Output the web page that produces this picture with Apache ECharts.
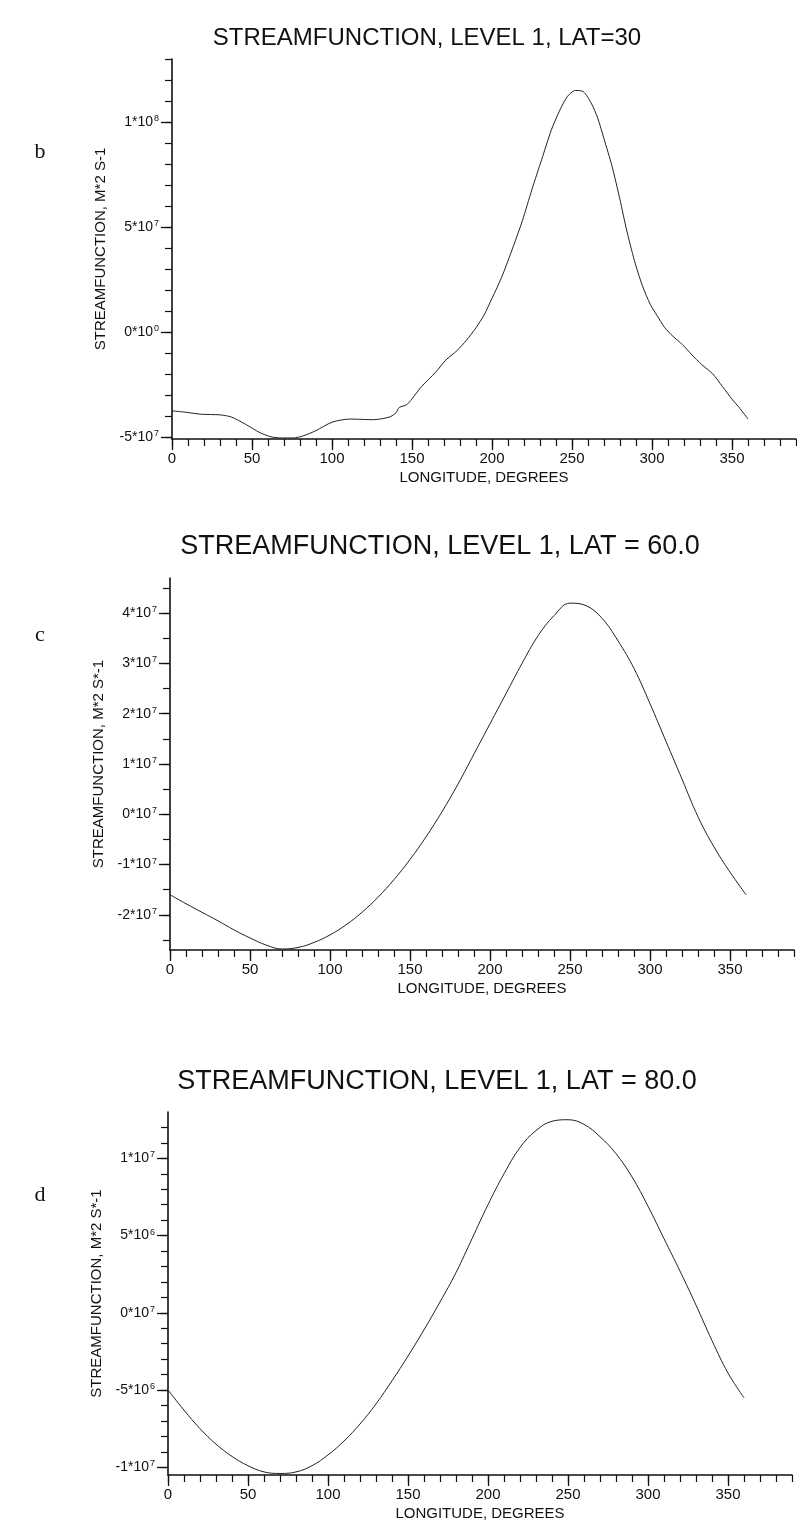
<!DOCTYPE html>
<html>
<head>
<meta charset="utf-8">
<script src="https://cdn.jsdelivr.net/npm/echarts@6/dist/echarts.min.js"></script>
<style>
  html, body { margin: 0; padding: 0; background: #ffffff; }
  #chart { width: 797px; height: 1532px; }
</style>
</head>
<body>
<div id="chart"></div>
<script>
// ---- Panel b: level 1, latitude 30 (values in units of 1e7 m^2/s) ----
const lonB = [0, 8, 18, 30, 37, 46, 55, 62, 68, 76, 82, 90, 100, 111, 126, 136, 140, 142, 147,
  156, 165, 171, 178, 184, 190, 195, 200, 206, 212, 219, 225, 231, 237, 242, 247, 252, 257,
  262, 266, 270, 275, 280, 284, 289, 294, 299, 303, 308, 313, 319, 325, 331, 338, 344, 350, 355, 360];
const psiB = [-3.76, -3.82, -3.92, -3.95, -4.05, -4.4, -4.8, -5.0, -5.05, -5.05, -4.95, -4.7, -4.3,
  -4.15, -4.18, -4.05, -3.85, -3.6, -3.45, -2.6, -1.9, -1.35, -0.9, -0.4, 0.2, 0.8, 1.6, 2.6, 3.8,
  5.3, 6.8, 8.2, 9.6, 10.5, 11.2, 11.5, 11.45, 10.9, 10.2, 9.2, 7.9, 6.3, 4.9, 3.4, 2.2, 1.3, 0.8,
  0.2, -0.2, -0.6, -1.1, -1.55, -2.0, -2.6, -3.2, -3.65, -4.15];

// ---- Panel c: level 1, latitude 60 (units of 1e7) ----
const lonC = [0, 10, 20, 30, 40, 50, 60, 70, 80, 90, 100, 110, 120, 130, 140, 150, 160, 170, 180,
  190, 200, 210, 220, 230, 240, 250, 260, 270, 280, 290, 300, 310, 320, 330, 340, 350, 360];
const psiC = [-1.6, -1.78, -1.95, -2.12, -2.3, -2.46, -2.6, -2.68, -2.65, -2.55, -2.4, -2.2, -1.95,
  -1.65, -1.3, -0.9, -0.45, 0.05, 0.6, 1.2, 1.8, 2.4, 3.0, 3.55, 3.95, 4.2, 4.15, 3.9, 3.45, 2.9,
  2.2, 1.45, 0.7, -0.05, -0.65, -1.15, -1.6];

// ---- Panel d: level 1, latitude 80 (units of 1e6) ----
const lonD = lonC;
const psiD = [-5.0, -6.3, -7.5, -8.5, -9.3, -9.9, -10.3, -10.4, -10.3, -9.9, -9.2, -8.3, -7.2,
  -5.9, -4.4, -2.8, -1.1, 0.7, 2.6, 4.8, 7.0, 9.0, 10.7, 11.8, 12.4, 12.5, 12.2, 11.4, 10.3, 8.8,
  6.9, 4.8, 2.7, 0.5, -1.8, -3.9, -5.5];

// ---- Tick labels ----
const xLabelValues = [0, 50, 100, 150, 200, 250, 300, 350];
const yLabelValuesB = [-5e7, 0, 5e7, 1e8];
const yLabelTextB = ['-5*10^7', '0*10^0', '5*10^7', '1*10^8'];
const yLabelValuesC = [-2e7, -1e7, 0, 1e7, 2e7, 3e7, 4e7];
const yLabelTextC = ['-2*10^7', '-1*10^7', '0*10^7', '1*10^7', '2*10^7', '3*10^7', '4*10^7'];
const yLabelValuesD = [-1e7, -5e6, 0, 5e6, 1e7];
const yLabelTextD = ['-1*10^7', '-5*10^6', '0*10^7', '5*10^6', '1*10^7'];

const titles = [
  'STREAMFUNCTION, LEVEL 1, LAT=30',
  'STREAMFUNCTION, LEVEL 1, LAT = 60.0',
  'STREAMFUNCTION, LEVEL 1, LAT = 80.0'
];
const panelLetters = ['b', 'c', 'd'];
const yNames = ['STREAMFUNCTION, M*2 S-1', 'STREAMFUNCTION, M*2 S*-1', 'STREAMFUNCTION, M*2 S*-1'];
const xName = 'LONGITUDE, DEGREES';

// ---- helpers ----
function range(a, b, step) {
  const out = [];
  const n = Math.round((b - a) / step);
  for (let i = 0; i <= n; i++) out.push(+(a + i * step).toPrecision(12));
  return out;
}
function pairs(xs, ys, scale) {
  return xs.map((x, i) => [x, ys[i] * scale]);
}
function richLabel(text) {
  const i = text.indexOf('^');
  return '{m|' + text.slice(0, i) + '}{e|' + text.slice(i + 1) + '}';
}

const SANS = '"Liberation Sans", Arial, Helvetica, sans-serif';
const INK = '#111111';

// layout of the three panels
const panels = [
  { left: 172, top: 59, height: 380, yMin: -5.1e7, yMax: 1.3e8,
    minor: range(-5e7, 1.3e8, 1e7), labels: yLabelValuesB, text: yLabelTextB,
    data: pairs(lonB, psiB, 1e7), smooth: 0.25, titleX: 427, titleY: 38, titleSize: 24, letterY: 152 },
  { left: 170, top: 578, height: 372, yMin: -2.7e7, yMax: 4.7e7,
    minor: range(-2.5e7, 4.5e7, 5e6), labels: yLabelValuesC, text: yLabelTextC,
    data: pairs(lonC, psiC, 1e7), smooth: 0.4, titleX: 440, titleY: 547, titleSize: 27, letterY: 635 },
  { left: 168, top: 1112, height: 363, yMin: -1.05e7, yMax: 1.3e7,
    minor: range(-1e7, 1.2e7, 1e6), labels: yLabelValuesD, text: yLabelTextD,
    data: pairs(lonD, psiD, 1e6), smooth: 0.4, titleX: 437, titleY: 1082, titleSize: 27, letterY: 1195 }
];

const X_MAX = 390;
const PX_PER_DEG = 1.6;

const grid = [], xAxis = [], yAxis = [], series = [], graphic = [];

panels.forEach((p, k) => {
  grid.push({ left: p.left, top: p.top, width: X_MAX * PX_PER_DEG, height: p.height,
    outerBoundsMode: 'none', containLabel: false });

  // main x axis: ticks every 10 degrees, labels every 50
  xAxis.push({
    type: 'value', gridIndex: k, min: 0, max: X_MAX, position: 'bottom',
    name: xName, nameLocation: 'middle', nameGap: 31,
    nameTextStyle: { fontFamily: SANS, fontSize: 15, color: INK },
    axisLine: { show: true, onZero: false, lineStyle: { color: INK, width: 1.6 } },
    axisTick: { show: true, length: 7, customValues: range(0, X_MAX, 10),
      lineStyle: { color: INK, width: 1.2 } },
    axisLabel: { show: true, customValues: xLabelValues, margin: 12,
      fontFamily: SANS, fontSize: 15, color: INK },
    splitLine: { show: false }
  });
  // overlay x axis: longer ticks at the labelled longitudes
  xAxis.push({
    type: 'value', gridIndex: k, min: 0, max: X_MAX, position: 'bottom',
    axisLine: { show: false, onZero: false },
    axisTick: { show: true, length: 11, customValues: xLabelValues,
      lineStyle: { color: INK, width: 1.3 } },
    axisLabel: { show: false }, splitLine: { show: false }
  });

  // main y axis
  yAxis.push({
    type: 'value', gridIndex: k, min: p.yMin, max: p.yMax, position: 'left',
    name: yNames[k], nameLocation: 'middle', nameRotate: 90, nameGap: 62,
    nameTextStyle: { fontFamily: SANS, fontSize: 15, color: INK },
    axisLine: { show: true, onZero: false, lineStyle: { color: INK, width: 1.6 } },
    axisTick: { show: true, length: 7, customValues: p.minor,
      lineStyle: { color: INK, width: 1.2 } },
    axisLabel: {
      show: true, customValues: p.labels, margin: 13,
      formatter: (v) => {
        const i = p.labels.indexOf(v);
        return i < 0 ? '' : richLabel(p.text[i]);
      },
      rich: {
        m: { fontFamily: SANS, fontSize: 14, color: INK, lineHeight: 16 },
        e: { fontFamily: SANS, fontSize: 9, color: INK, lineHeight: 9, verticalAlign: 'top', padding: [0, 0, 0, 1] }
      }
    },
    splitLine: { show: false }
  });
  // overlay y axis: longer ticks at labelled values
  yAxis.push({
    type: 'value', gridIndex: k, min: p.yMin, max: p.yMax, position: 'left',
    axisLine: { show: false, onZero: false },
    axisTick: { show: true, length: 11, customValues: p.labels,
      lineStyle: { color: INK, width: 1.3 } },
    axisLabel: { show: false }, splitLine: { show: false }
  });

  series.push({
    type: 'line', xAxisIndex: 2 * k, yAxisIndex: 2 * k,
    data: p.data, smooth: p.smooth, showSymbol: false, symbol: 'none',
    lineStyle: { color: '#222222', width: 1 }, silent: true, animation: false
  });

  graphic.push({
    type: 'text', x: p.titleX, y: p.titleY,
    style: { text: titles[k], fontFamily: SANS, fontSize: p.titleSize, fill: INK,
      align: 'center', verticalAlign: 'middle' }
  });
  graphic.push({
    type: 'text', x: 40, y: p.letterY,
    style: { text: panelLetters[k], fontFamily: '"Liberation Serif", "DejaVu Serif", serif',
      fontSize: 22, fill: INK, align: 'center', verticalAlign: 'middle' }
  });
});

const chart = echarts.init(document.getElementById('chart'), null, { renderer: 'canvas' });
chart.setOption({
  backgroundColor: '#ffffff',
  animation: false,
  grid, xAxis, yAxis, series, graphic
});
</script>
</body>
</html>
